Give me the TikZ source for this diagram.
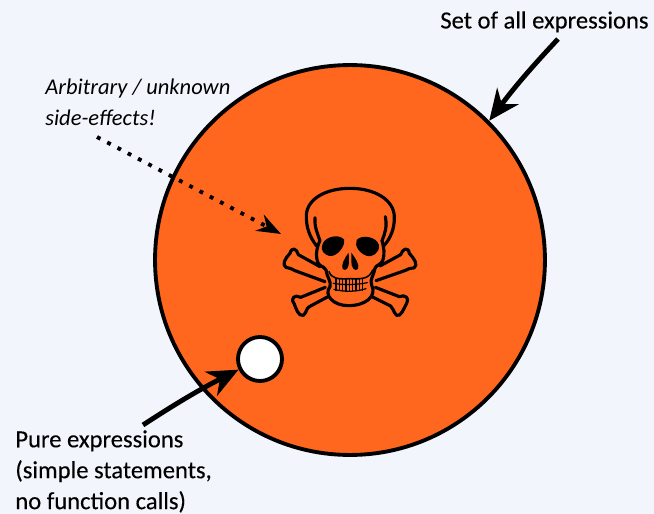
\documentclass[tikz,border=0pt]{standalone}
\usepackage{fontspec}
\setmainfont{Carlito}
\usetikzlibrary{arrows.meta, positioning}
\definecolor{pagebg}{HTML}{F2F5FB}
\definecolor{exprorange}{HTML}{FF671F}

\begin{document}
\begin{tikzpicture}[x=0.02cm, y=-0.02cm,
    label/.style={anchor=north west, align=left, inner sep=0pt, font=\fontsize{14}{17.6}\selectfont\addfontfeature{FakeBold=0.25}, text=black},
    thickarrow/.style={-{Stealth[length=0.62cm, width=0.54cm]}, line width=2.8pt, black},
    skullline/.style={line width=1.8pt, black, line join=round, line cap=round}
]
\fill[pagebg] (0,0) rectangle (654,514);
\useasboundingbox (0,0) rectangle (654,514);

% Circles
\node[circle, draw=black, line width=2.2pt, fill=exprorange, minimum size=7.8cm, inner sep=0pt] (expr) at (350,260) {};
\node[circle, draw=black, line width=2.2pt, fill=white, minimum size=0.88cm, inner sep=0pt] (pure) at (260,359) {};

% Skull (coordinates follow a 3x crop)
\begin{scope}[shift={(270,170)}, x=0.00667cm, y=-0.00667cm]
\coordinate (skull) at (33,192);
% Cranium
\draw[skullline] (140,228) .. controls (118,200) and (108,170) .. (109,135)
    .. controls (112,85) and (170,55) .. (240,55)
    .. controls (315,55) and (372,90) .. (373,140)
    .. controls (374,175) and (362,205) .. (341,228);
% Face and jaw
\draw[skullline] (135,143) .. controls (133,170) and (142,190) .. (150,212)
    .. controls (138,235) and (136,265) .. (146,282)
    .. controls (155,292) and (165,290) .. (168,300)
    .. controls (170,320) and (185,335) .. (180,350)
    .. controls (160,375) and (190,407) .. (235,407)
    .. controls (285,407) and (322,380) .. (305,345)
    .. controls (298,330) and (312,315) .. (315,295)
    .. controls (318,285) and (332,285) .. (338,272)
    .. controls (345,250) and (342,235) .. (336,212)
    .. controls (345,190) and (352,170) .. (346,140);
% Eyes
\fill[black] (156,228) .. controls (160,200) and (205,190) .. (222,208)
    .. controls (228,228) and (200,262) .. (178,258)
    .. controls (162,254) and (152,240) .. (156,228) -- cycle;
\fill[black] (260,210) .. controls (275,192) and (320,200) .. (327,225)
    .. controls (330,250) and (305,262) .. (292,258)
    .. controls (270,252) and (252,228) .. (260,210) -- cycle;
% Nose
\fill[black] (236,248) .. controls (225,262) and (212,285) .. (218,297)
    .. controls (228,307) and (238,290) .. (237,275) -- cycle;
\fill[black] (244,248) .. controls (255,262) and (270,285) .. (264,297)
    .. controls (254,307) and (243,290) .. (244,275) -- cycle;
% Teeth
\draw[skullline, line width=0.9pt] (177,305) .. controls (185,325) and (200,328) .. (240,326)
    .. controls (280,328) and (298,325) .. (308,300);
\draw[skullline, line width=0.7pt] (190,340) .. controls (220,345) and (260,345) .. (292,338);
\draw[skullline, line width=0.7pt] (192,358) .. controls (220,366) and (260,366) .. (288,356);
\foreach \tx in {198,208,218,228,238,248,258,268,278}
    \draw[skullline, line width=0.6pt] (\tx,326) -- (\tx,362);
% Bones
\draw[skullline] (150,290) -- (85,254) .. controls (80,235) and (65,230) .. (60,250)
    .. controls (45,265) and (35,285) .. (48,292)
    .. controls (58,292) and (65,298) .. (75,302) -- (165,335);
\draw[skullline] (330,288) -- (392,254) .. controls (398,235) and (415,230) .. (418,250)
    .. controls (432,265) and (446,285) .. (432,294)
    .. controls (420,294) and (412,298) .. (404,302) -- (318,332);
\draw[skullline] (166,352) -- (92,382) .. controls (75,372) and (60,385) .. (72,400)
    .. controls (78,415) and (85,440) .. (100,436)
    .. controls (112,425) and (108,415) .. (118,410) -- (174,380);
\draw[skullline] (316,352) -- (388,380) .. controls (405,372) and (420,385) .. (410,400)
    .. controls (402,415) and (392,442) .. (380,436)
    .. controls (368,425) and (372,415) .. (362,408) -- (306,380);
\end{scope}

% Labels
\node[label] (setlabel) at (440,11) {Set of all expressions};
\node[label, font=\fontsize{12.8}{17.6}\selectfont\itshape] (sidelabel) at (45,79) {Arbitrary / unknown\\side-effects!};
\node[label] (purelabel) at (15,430) {Pure expressions\\(simple statements,\\no function calls)};

% Arrows
\coordinate (settail) at (558,39);
\coordinate (sidetail) at (97,137);
\coordinate (puretail) at (143,425);
\draw[thickarrow] (settail) to[bend right=3] (expr.45);
\draw[-{Stealth[length=0.48cm, width=0.36cm]}, line width=2.2pt, dash pattern=on 2.2pt off 4.4pt] (sidetail) -- (skull);
\draw[thickarrow] (puretail) to[bend left=3] (pure);
\end{tikzpicture}
\end{document}
